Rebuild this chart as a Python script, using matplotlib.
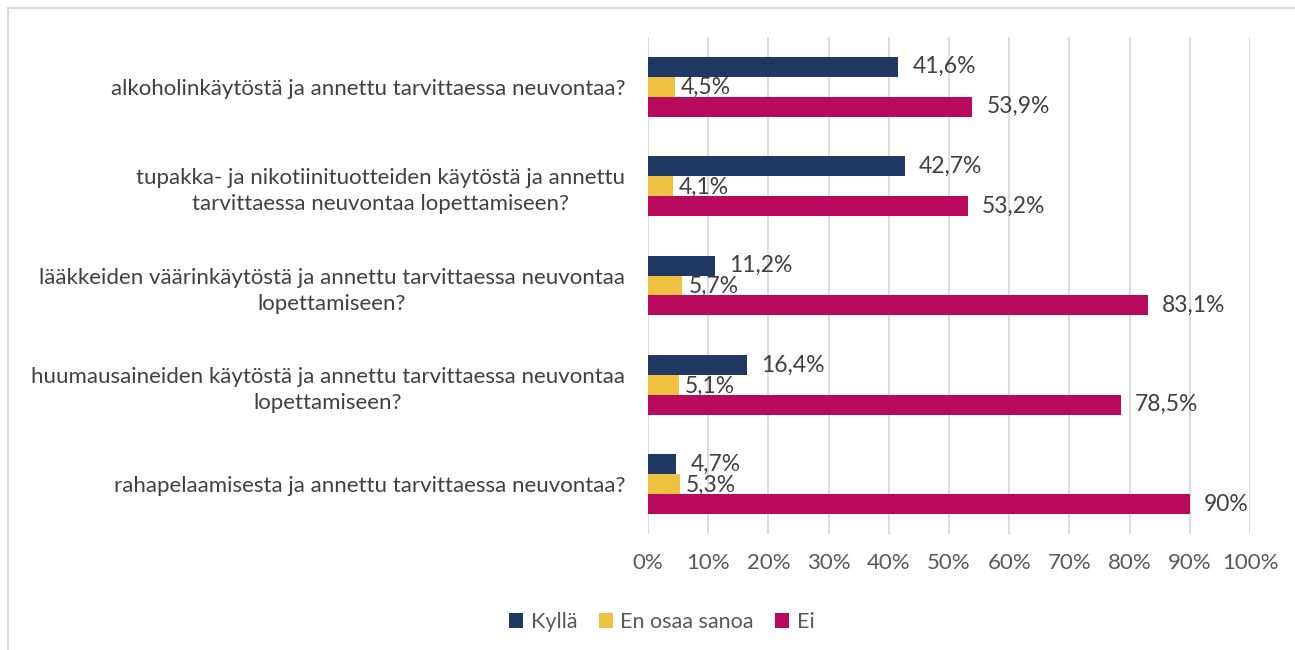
import matplotlib
matplotlib.use("Agg")
import matplotlib.pyplot as plt
from matplotlib.lines import Line2D
import numpy as np

plt.rcParams['font.family'] = ['Lato', 'DejaVu Sans']

categories = [
    "alkoholinkäytöstä ja annettu tarvittaessa neuvontaa?",
    "tupakka- ja nikotiinituotteiden käytöstä ja annettu\ntarvittaessa neuvontaa lopettamiseen?",
    "lääkkeiden väärinkäytöstä ja annettu tarvittaessa neuvontaa\nlopettamiseen?",
    "huumausaineiden käytöstä ja annettu tarvittaessa neuvontaa\nlopettamiseen?",
    "rahapelaamisesta ja annettu tarvittaessa neuvontaa?",
]
kylla = [41.6, 42.7, 11.2, 16.4, 4.7]
en_osaa = [4.5, 4.1, 5.7, 5.1, 5.3]
ei = [53.9, 53.2, 83.1, 78.5, 90.0]
labels_kylla = ["41,6%", "42,7%", "11,2%", "16,4%", "4,7%"]
labels_en = ["4,5%", "4,1%", "5,7%", "5,1%", "5,3%"]
labels_ei = ["53,9%", "53,2%", "83,1%", "78,5%", "90%"]
series_names = ["Kyllä", "En osaa sanoa", "Ei"]
xticks = [0, 10, 20, 30, 40, 50, 60, 70, 80, 90, 100]
xticklabels = [f"{t}%" for t in xticks]

colors = ["#203864", "#EFC140", "#B8095C"]
text_col = "#404040"
tick_col = "#595959"
FS = 16

fig = plt.figure(figsize=(12.95, 6.5), dpi=100)
ax = fig.add_axes([648/1295, 1-534/650, (1250-648)/1295, (534-37)/650])

y = np.arange(len(categories))
h = 0.2
series = [kylla, en_osaa, ei]
lbls = [labels_kylla, labels_en, labels_ei]
offsets = [-h, 0, h]
pads = [14, 6, 14]
vshift = [0, -1, 0]
for vals, lab, off, c, name, pad, vs in zip(series, lbls, offsets, colors, series_names, pads, vshift):
    bars = ax.barh(y + off, vals, height=h, color=c, label=name, zorder=3)
    for b, t in zip(bars, lab):
        ax.annotate(t, (b.get_width(), b.get_y() + b.get_height()/2),
                    xytext=(pad, vs), textcoords="offset pixels",
                    ha="left", va="center", fontsize=FS + 0.5, color=text_col, zorder=4)

ax.set_xlim(0, 100)
ax.set_ylim(len(categories) - 0.5, -0.5)
ax.set_xticks(xticks)
ax.set_xticklabels(xticklabels, fontsize=FS, color=tick_col)
ax.set_yticks(y)
ax.set_yticklabels(categories, fontsize=FS, color=text_col, multialignment="center",
                   linespacing=1.4)
ax.tick_params(axis="x", length=0, pad=14)
ax.tick_params(axis="y", length=0, pad=16.5)
ax.grid(axis="x", color="#D9D9D9", linewidth=1.3, zorder=0)
for s in ax.spines.values():
    s.set_visible(False)

fig.legend(loc="center", bbox_to_anchor=(662/1295, 1-622/650), ncol=3, frameon=False,
           fontsize=15.5, handlelength=0.65, handleheight=0.65, handletextpad=0.35,
           columnspacing=1.0, labelcolor=tick_col)

fig.add_artist(Line2D([8/1295, 1.0], [1-8/650, 1-8/650], transform=fig.transFigure,
                      color="#D9D9D9", linewidth=1.5))
fig.add_artist(Line2D([8/1295, 8/1295], [0, 1-8/650], transform=fig.transFigure,
                      color="#D9D9D9", linewidth=1.5))

fig.savefig("out.png", dpi=100)
